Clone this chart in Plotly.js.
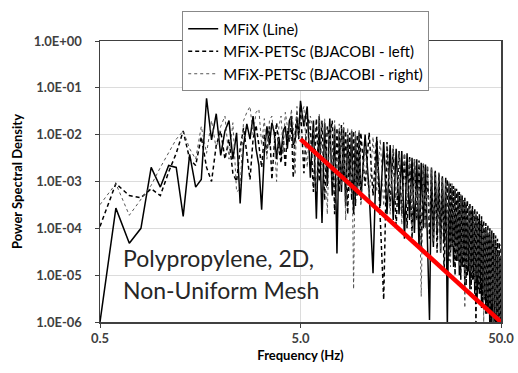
<!DOCTYPE html>
<html><head><meta charset="utf-8">
<script src="https://cdn.plot.ly/plotly-3.0.1.min.js"></script>
<style>html,body{margin:0;padding:0;background:#fff}#chart{width:518px;height:373px}</style>
</head><body><div id="chart"></div>
<script>
// Frequency bins (Hz)
const freq = [
 0.5,0.6,0.7,0.8,0.9,1.0,1.1,1.2,1.3,1.4,1.5,1.6,1.7,1.8,1.9,2.0,2.1,2.2,2.3,2.4,2.5,2.6,2.7,2.8,2.9,
 3.0,3.1,3.2,3.3,3.4,3.5,3.6,3.7,3.8,3.9,4.0,4.1,4.2,4.3,4.4,4.5,4.6,4.7,4.8,4.9,5.0,
 5.2,5.4,5.6,5.8,6.0,6.2,6.4,6.6,6.8,7.0,7.2,7.4,7.6,7.8,8.0,8.2,8.4,8.6,8.8,9.0,9.2,9.4,9.6,9.8,10.0,
 10.5,11,11.5,12,12.5,13,13.5,14,14.5,15,15.5,16,16.5,17,17.5,18,18.5,19,19.5,20,
 20.5,21,21.5,22,22.5,23,23.5,24,24.5,25,25.5,26,26.5,27,27.5,28,28.5,29,29.5,30,
 30.5,31,31.5,32,32.5,33,33.5,34,34.5,35,35.5,36,36.5,37,37.5,38,38.5,39,39.5,40,
 40.5,41,41.5,42,42.5,43,43.5,44,44.5,45,45.5,46,46.5,47,47.5,48,48.5,49,49.5,50
];
// MFiX (Line)
const psdMfixLine = [
 1e-6,2.7e-4,4.8e-5,1e-4,2e-3,7.6e-4,2.2e-3,2e-3,1.8e-4,3.8e-3,7.6e-4,1.1e-3,6e-2,7.7e-3,2.8e-2,3.6e-3,1.2e-2,2e-2,3e-3,1.1e-2,3.4e-4,6e-3,1.7e-2,8e-3,2.5e-2,
 5e-3,2.2e-3,2.5e-4,4e-3,1.5e-2,6e-3,1.8e-2,1.1e-2,3e-3,9e-3,3.6e-3,1.2e-2,1.5e-2,5e-3,2e-2,2.5e-2,6e-3,7.7e-3,2e-2,1e-2,5.3e-2,
 1.5e-2,4e-2,1.2e-3,2e-2,1.6e-4,2.5e-2,1.3e-4,1.8e-2,8e-4,2.2e-2,5e-4,1.5e-2,2.9e-5,1.2e-2,6e-4,1.4e-2,3e-4,1e-2,1e-3,1.2e-2,2e-4,9e-3,5e-4,1.1e-2,4e-4,
 1e-2,6e-4,1.1e-5,8e-3,3e-4,7e-3,2e-4,6e-3,1.5e-4,5e-3,2e-4,4.5e-3,6e-5,4e-3,1.5e-4,3.2e-3,8e-5,3e-3,4e-5,2.5e-3,
 1e-4,2.3e-3,5e-5,1.1e-6,2e-3,4e-5,1.7e-3,7e-5,1.5e-3,3e-5,1.3e-3,5e-5,1.2e-3,8e-7,9e-4,3e-5,8e-4,1.5e-5,7e-4,2e-5,
 6e-4,1e-5,5e-4,1.5e-5,4e-4,6e-6,3.5e-4,1e-5,3e-4,5e-6,2.5e-4,8e-6,2.2e-4,4e-6,2e-4,3e-6,1.6e-4,4e-6,1.4e-4,2e-6,
 1.2e-4,3e-6,1e-4,1.5e-6,9e-5,2e-6,7e-5,5e-7,6e-5,1e-6,5e-5,8e-7,4.5e-5,1e-6,4e-5,5e-7,3e-5,7e-7,2.5e-5,4e-7
];
// MFiX-PETSc (BJACOBI - left)
const psdPetscLeft = [
 1.1e-4,9e-4,5e-4,4.5e-4,7e-4,5e-4,1.6e-3,4e-3,1.2e-2,3e-3,2.2e-3,9e-3,2e-3,1e-3,6e-3,1.2e-2,3e-3,8e-3,1.5e-3,1e-3,5e-3,1.4e-2,4e-3,1.1e-3,8e-3,
 1.6e-2,6e-3,2e-3,1e-2,4e-3,1.5e-2,1.1e-3,6e-3,1.8e-2,5e-3,2.5e-3,9e-3,2e-3,1.2e-2,7e-3,2e-2,1.2e-3,1e-2,3e-2,8e-3,4e-2,
 1.5e-3,2.5e-2,1.5e-2,6e-4,2.2e-2,1e-3,2e-2,4e-4,1.5e-2,8e-3,2e-2,2e-4,1.4e-2,6e-4,1.6e-2,1e-3,1.2e-2,2e-4,1.1e-2,4e-4,1.2e-2,3e-4,1e-2,8e-4,1.1e-2,
 8e-4,1.1e-2,5e-4,9e-3,2e-4,3e-6,7e-3,3e-4,5e-3,1e-4,4.5e-3,2e-4,4e-3,1e-4,3.5e-3,6e-5,3e-3,1.5e-4,2.8e-3,4e-5,
 2.4e-3,1e-4,2.2e-3,6e-5,1.8e-3,5e-5,1.6e-3,3e-5,1.4e-3,6e-5,1.2e-3,1.2e-5,2e-4,1.1e-3,2e-5,9e-4,4e-5,8e-4,1e-5,7e-4,
 2e-5,6e-4,8e-6,5e-4,1.5e-5,4.5e-4,6e-6,4e-4,1.2e-5,3.5e-4,5e-6,3e-4,8e-6,2.7e-4,8e-7,2.3e-4,5e-6,2e-4,4e-6,1.8e-4,
 2.5e-6,1.5e-4,3e-6,1.3e-4,1.5e-6,1.2e-4,2e-6,1e-4,1e-6,9e-5,1.5e-6,8e-5,7e-7,7e-5,1e-6,6e-5,5e-7,5e-5,7e-7,4.5e-5
];
// MFiX-PETSc (BJACOBI - right)
const psdPetscRight = [
 3.2e-4,9e-4,1.9e-4,4.3e-4,8.3e-4,2e-3,4e-3,8e-3,1.2e-2,5e-3,3e-3,1.5e-2,4e-3,2e-2,5e-3,1.5e-2,2.5e-2,3e-3,1.8e-2,6e-4,7e-4,2e-2,3e-2,4e-2,1e-2,
 3e-2,3.5e-2,6e-3,2.2e-2,3e-3,2e-2,2.5e-2,8e-3,1e-3,1.5e-2,2.5e-2,4e-3,3e-2,1.5e-2,8e-3,3.5e-2,1.5e-2,1.4e-3,4e-2,1.2e-2,2e-2,
 4e-2,2e-3,2.5e-2,1.2e-2,6e-4,2.8e-2,1.5e-3,2.2e-2,2e-4,1.6e-2,1e-3,2e-2,4e-4,1.7e-2,8e-4,1.8e-2,1.5e-4,1.4e-2,6e-4,1.3e-2,5e-6,1.2e-2,5e-4,1.3e-2,3e-4,
 6e-3,4e-4,9e-3,6e-4,8e-3,3e-4,6e-3,2e-4,6e-3,4e-4,4e-3,1.2e-4,4e-3,3e-4,3e-3,8e-5,3e-3,1.5e-4,2.5e-3,3.5e-6,
 2.4e-3,1e-4,2e-3,1.5e-4,1.9e-3,5e-5,1.5e-3,1e-4,1.6e-3,3e-5,1.2e-3,8e-5,1e-3,5e-5,1e-3,1.5e-5,9e-4,4e-5,7e-4,2.5e-5,
 5e-4,1.5e-5,5.5e-4,2.5e-5,4e-4,2e-6,4e-4,1.5e-5,3e-4,1.2e-5,2.5e-4,1e-5,2.4e-4,7e-6,1.9e-4,1e-5,1.5e-4,5e-6,1.4e-4,7e-6,
 1.1e-4,1e-6,1e-4,4e-6,9e-5,3e-6,8e-5,2e-6,6e-5,2.5e-6,5e-5,1e-6,4.5e-5,1.5e-6,3.5e-5,4e-7,3e-5,8e-7,2.5e-5,5e-7
];
// Red reference slope line
const fitFreq = [5.0, 50.0];
const fitPsd = [8e-3, 1e-6];

const seriesNames = ['MFiX (Line)', 'MFiX-PETSc (BJACOBI - left)', 'MFiX-PETSc (BJACOBI - right)'];
const xTickVals = [0.5, 5, 50];
const xTickText = ['0.5', '5.0', '50.0'];
const yTickVals = [1e-6, 1e-5, 1e-4, 1e-3, 1e-2, 1e-1, 1];
const yTickText = ['1.0E-06', '1.0E-05', '1.0E-04', '1.0E-03', '1.0E-02', '1.0E-01', '1.0E+00'];
const noteLines = ['Polypropylene, 2D,', 'Non-Uniform Mesh'];

const FONT = 'Lato, "Open Sans", sans-serif';
const traces = [
  {x: freq, y: psdMfixLine, name: seriesNames[0], type: 'scatter', mode: 'lines',
   line: {color: '#000000', width: 1.5}},
  {x: freq, y: psdPetscLeft, name: seriesNames[1], type: 'scatter', mode: 'lines',
   line: {color: '#000000', width: 1.5, dash: '4px,3px'}},
  {x: freq, y: psdPetscRight, name: seriesNames[2], type: 'scatter', mode: 'lines',
   line: {color: '#555555', width: 1, dash: 'dot'}},
  {x: fitFreq, y: fitPsd, type: 'scatter', mode: 'lines', showlegend: false,
   line: {color: '#ff0000', width: 4.5}}
];
const layout = {
  width: 518, height: 373,
  margin: {l: 100, r: 17, t: 36, b: 51},
  paper_bgcolor: '#ffffff', plot_bgcolor: '#ffffff',
  font: {family: FONT, color: '#404040'},
  showlegend: true,
  legend: {x: 0.205, y: 1.105, xanchor: 'left', yanchor: 'top', bgcolor: '#ffffff',
           bordercolor: '#888888', borderwidth: 1,
           font: {family: FONT, size: 15, color: '#000000'}},
  xaxis: {type: 'log', range: [Math.log10(0.5), Math.log10(50)],
          tickvals: xTickVals, ticktext: xTickText, ticks: 'outside', ticklen: 4,
          tickcolor: '#404040', showline: true, linecolor: '#404040', linewidth: 1.5, mirror: true,
          showgrid: true, gridcolor: '#dcdcdc', zeroline: false,
          tickfont: {family: FONT, size: 13, color: '#404040', weight: 'bold'},
          title: {text: 'Frequency (Hz)', standoff: 6,
                  font: {family: FONT, size: 13, color: '#000000', weight: 'bold'}}},
  yaxis: {type: 'log', range: [-6, 0],
          tickvals: yTickVals, ticktext: yTickText, ticks: 'outside', ticklen: 4,
          ticklabelstandoff: 10,
          tickcolor: '#404040', showline: true, linecolor: '#404040', linewidth: 1.5, mirror: true,
          showgrid: true, gridcolor: '#dcdcdc', zeroline: false,
          tickfont: {family: FONT, size: 13, color: '#404040', weight: 'bold'},
          title: {text: 'Power Spectral Density', standoff: 8,
                  font: {family: FONT, size: 13, color: '#000000', weight: 'bold'}}},
  annotations: [
    {xref: 'paper', yref: 'paper', x: 0.052, y: 0.226, xanchor: 'left', yanchor: 'middle',
     text: noteLines[0], showarrow: false, font: {family: FONT, size: 23, color: '#262626'}},
    {xref: 'paper', yref: 'paper', x: 0.052, y: 0.114, xanchor: 'left', yanchor: 'middle',
     text: noteLines[1], showarrow: false, font: {family: FONT, size: 23, color: '#262626'}}
  ]
};
Plotly.newPlot('chart', traces, layout, {staticPlot: true, displayModeBar: false});
</script>
</body></html>
